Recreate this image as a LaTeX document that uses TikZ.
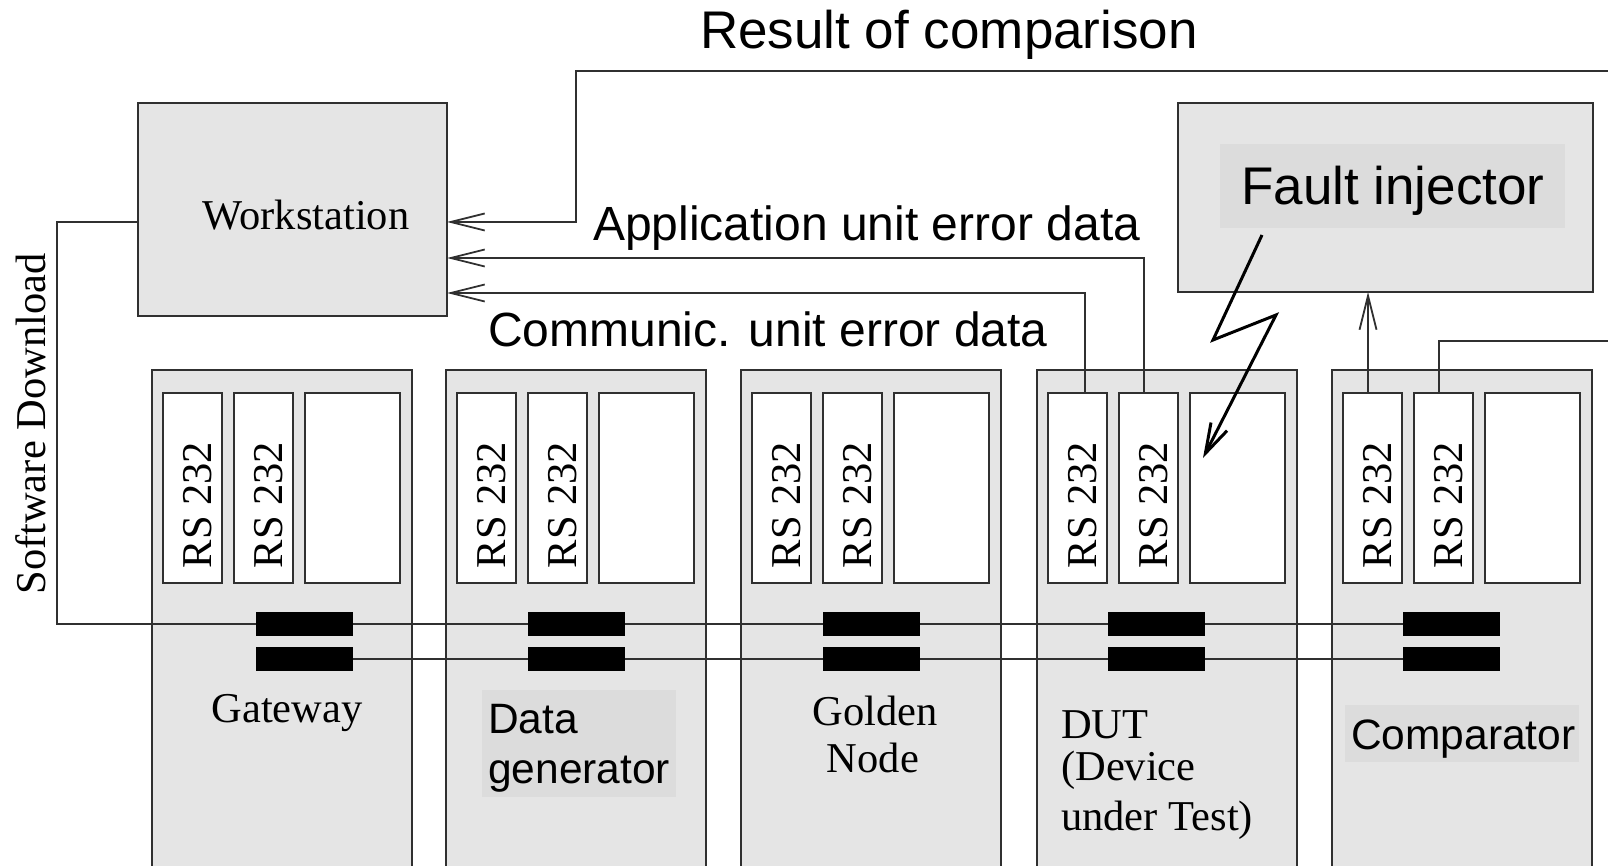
\documentclass[tikz,border=0pt]{standalone}
\usepackage{fontspec}
\setmainfont{Liberation Serif}
\newfontfamily\sansf{Liberation Sans}
\usetikzlibrary{arrows.meta,calc}
\definecolor{boxfill}{HTML}{E5E5E5}
\definecolor{labelbg}{HTML}{DCDCDC}
\definecolor{edge}{HTML}{303030}
\begin{document}
\begin{tikzpicture}[x=1pt,y=-1pt,
  unit/.style={draw=edge,line width=2.2pt,fill=boxfill,anchor=north west,minimum width=260pt,minimum height=520pt,inner sep=0pt,outer sep=0pt},
  bigbox/.style={draw=edge,line width=2.2pt,fill=boxfill,anchor=north west,inner sep=0pt,outer sep=0pt},
  slot/.style={draw=edge,line width=2pt,fill=white,anchor=north west,minimum width=59pt,minimum height=190pt,inner sep=0pt,outer sep=0pt},
  wideslot/.style={slot,minimum width=95pt},
  busbar/.style={fill=black,anchor=north west,minimum width=97pt,minimum height=24pt,inner sep=0pt,outer sep=0pt},
  conn/.style={draw=edge,line width=1.8pt},
  arr/.style={conn,-{Straight Barb[length=34pt,width=17pt]}},
  serif/.style={font=\fontsize{42.5}{48}\selectfont,inner sep=0pt},
  sanslbl/.style={font=\sansf\fontsize{48}{56}\selectfont,inner sep=0pt},
  sansbig/.style={font=\sansf\fontsize{53}{60}\selectfont,inner sep=0pt},
  sanssmall/.style={font=\sansf\fontsize{42.5}{50}\selectfont,inner sep=0pt},
  rs/.style={serif,rotate=90,anchor=base}
]
\useasboundingbox (0,0) rectangle (1608,866);

% Workstation
\node[bigbox,minimum width=309pt,minimum height=213pt] (ws) at (138,103) {};
\node[serif,anchor=base] (wst) at (306,230) {Workstation};

% Fault injector
\node[bigbox,minimum width=415pt,minimum height=189pt] (fi) at (1178,103) {};
\fill[labelbg] (1220,144) rectangle (1565,228);
\node[sansbig,anchor=base west] (fit) at (1241,205) {Fault injector};

% Units with slots
\foreach \n/\x in {g/152, dg/446, gn/741, d/1037, c/1332} {
  \node[unit] (\n) at (\x,370) {};
  \node[slot] (s1\n) at ($(\n.north west)+(11,23)$) {};
  \node[slot] (s2\n) at ($(\n.north west)+(82,23)$) {};
  \node[wideslot] (s3\n) at ($(\n.north west)+(153,23)$) {};
  \node[rs] (r1\n) at ($(s1\n.north west)+(48,112)$) {RS 232};
  \node[rs] (r2\n) at ($(s2\n.north west)+(48,112)$) {RS 232};
}

% Bus bars
\foreach \n/\bx in {g/104, dg/82, gn/82, d/71, c/71} {
  \node[busbar] (bA\n) at ($(\n.north west)+(\bx,242)$) {};
  \node[busbar] (bB\n) at ($(\n.north west)+(\bx,277)$) {};
}
\foreach \a/\b in {g/dg, dg/gn, gn/d, d/c} {
  \draw[conn] (bA\a.east) -- (bA\b.west);
  \draw[conn] (bB\a.east) -- (bB\b.west);
}

% Software download
\coordinate (sd) at (57,222);
\draw[conn] (ws.west |- sd) -- (sd) |- (bAg.west);
\node[serif,rotate=90,anchor=base] (sdt) at (45,424) {Software Download};

% Result of comparison
\coordinate (rcend) at (1612,71);
\coordinate (rc) at (576,71);
\draw[arr] (rcend) -- (rc) |- (ws.east |- sd);
\node[sansbig,anchor=base] (rct) at (949,49) {Result of comparison};

% Application unit error data
\coordinate (apy) at (1144,258);
\draw[arr] (s2d.north -| apy) -- (apy) -- (ws.east |- apy);
\node[sanslbl,anchor=base west] (apt) at (593,241) {Application unit error data};

% Communic. unit error data
\coordinate (cmy) at (1085,293);
\draw[arr] (s1d.north -| cmy) -- (cmy) -- (ws.east |- cmy);
\node[sanslbl,anchor=base west] (cmt) at (488,346) {Communic. unit error data};

% Comparator to fault injector
\coordinate (cu) at (1368,300);
\draw[arr] (s1c.north -| cu) -- (fi.south -| cu);
\coordinate (cr) at (1439,341);
\coordinate (crend) at (1612,341);
\draw[conn] (s2c.north -| cr) -- (cr) -- (crend);

% Lightning
\coordinate (l1) at (1262,235);
\coordinate (l2) at (1213,340);
\coordinate (l3) at (1276,315);
\coordinate (l4) at (1203,458);
\draw[line width=3pt,black,-{Straight Barb[length=30pt,width=18pt]}] (l1) -- (l2) -- (l3) -- (l4);

% Labels of units
\node[serif,anchor=base] (gt) at (287,722) {Gateway};
\fill[labelbg] (482,690) rectangle (676,797);
\node[sanssmall,anchor=base west] (dgt1) at (488,733) {Data};
\node[sanssmall,anchor=base west] (dgt2) at (488,783) {generator};
\node[serif,anchor=base] (gnt1) at (875,725) {Golden};
\node[serif,anchor=base] (gnt2) at (873,772) {Node};
\node[serif,anchor=base west] (dt1) at (1061,738) {DUT};
\node[serif,anchor=base west] (dt2) at (1061,780) {(Device};
\node[serif,anchor=base west] (dt3) at (1061,830) {under Test)};
\fill[labelbg] (1345,705) rectangle (1579,762);
\node[sanssmall,anchor=base west] (ct) at (1351,749) {Comparator};
\end{tikzpicture}
\end{document}
